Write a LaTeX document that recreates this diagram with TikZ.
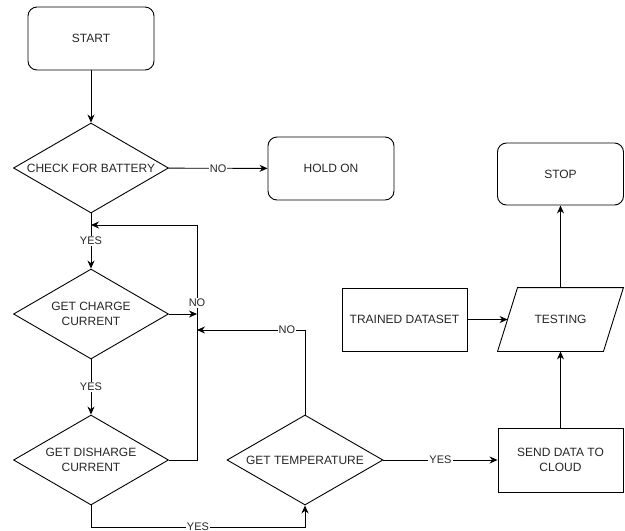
\documentclass[tikz,border=0pt]{standalone}
\usepackage{fontspec}
\setmainfont{Liberation Sans}
\usetikzlibrary{shapes.geometric,arrows.meta}
\begin{document}
\begin{tikzpicture}[x=1pt,y=-1pt,
  line width=0.9pt,
  every node/.style={font=\fontsize{12}{15}\selectfont, text=black!85, align=center},
  term/.style={draw, rounded corners=9pt, minimum width=126pt, minimum height=63pt, inner sep=0pt},
  proc/.style={draw, minimum width=125pt, minimum height=63pt, inner sep=0pt},
  dec/.style={draw, shape=diamond, minimum width=155pt, minimum height=90pt, inner sep=0pt},
  dtext/.style={inner sep=0pt},
  lbl/.style={font=\fontsize{11}{13}\selectfont, fill=white, inner sep=1pt},
  arr/.style={-{Stealth[length=8pt,width=7pt]}}
]
\useasboundingbox (0,0) rectangle (625,531);
% nodes
\node[term] (start) at (91,38.5) {START};
\node[dec] (chk) at (91,168) {};
\node[dtext] at (chk) {CHECK FOR BATTERY};
\node[term] (hold) at (331,168.5) {HOLD ON};
\node[dec] (chg) at (91,314) {};
\node[dtext] at (chg) {GET CHARGE\\CURRENT};
\node[dec] (dis) at (91,460) {};
\node[dtext] at (dis) {GET DISHARGE\\CURRENT};
\node[dec, minimum width=156pt] (tmp) at (305,460) {};
\node[dtext] at (tmp) {GET TEMPERATURE};
\node[proc, minimum height=64pt] (send) at (560.5,460) {SEND DATA TO\\CLOUD};
\node[proc] (trained) at (404.5,319.5) {TRAINED DATASET};
\node[minimum width=125pt, minimum height=63pt, inner sep=0pt] (test) at (560.5,319.5) {TESTING};
\draw ([xshift=20pt]test.north west) -- (test.north east) -- ([xshift=-20pt]test.south east) -- (test.south west) -- cycle;
\node[term, minimum height=62pt] (stop) at (560.5,174) {STOP};
% helper coordinates
\coordinate (cA) at (91,225);
\coordinate (cB) at (197,225);
\coordinate (cC) at (197,460);
\coordinate (cD) at (197,314);
\coordinate (cE) at (91,527);
\coordinate (cF) at (305,527);
\coordinate (cG) at (305,330);
\coordinate (cH) at (197,330);
\coordinate (cI) at ([xshift=10pt]test.west);
% connectors
\draw[arr] (start) -- (chk);
\draw[arr] (chk) -- node[lbl]{NO} (hold);
\draw[arr] (chk) -- node[lbl]{YES} (chg);
\draw[arr] (chg.east) -- (cD);
\draw[arr] (dis.east) -- (cC) -- node[lbl, pos=0.668]{NO} (cB) -- (cA);
\draw[arr] (chg) -- node[lbl]{YES} (dis);
\draw[arr] (dis.south) -- (cE) -- node[lbl]{YES} (cF) -- (tmp.south);
\draw[arr] (tmp.north) -- (cG) -- node[lbl, pos=0.167]{NO} (cH);
\draw[arr] (tmp.east) -- node[lbl]{YES} (send.west);
\draw[arr] (send.north) -- (test.south);
\draw[arr] (trained.east) -- (cI);
\draw[arr] (test.north) -- (stop.south);
\end{tikzpicture}
\end{document}
